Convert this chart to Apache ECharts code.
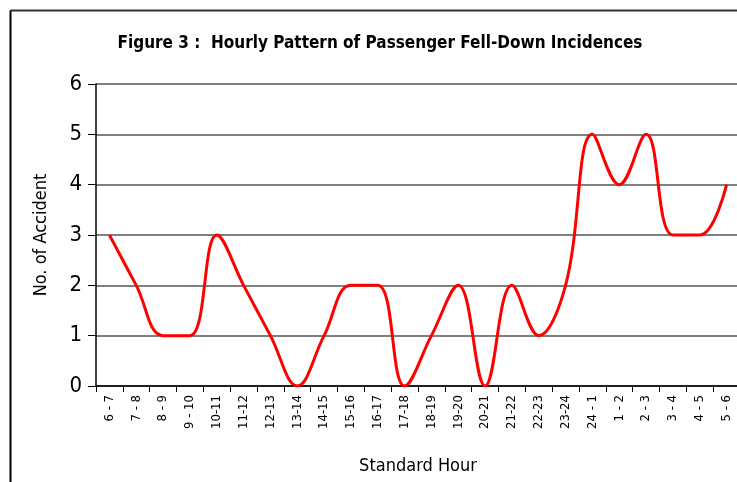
<!DOCTYPE html>
<html>
<head>
<meta charset="utf-8">
<script src="https://cdn.jsdelivr.net/npm/echarts@6/dist/echarts.min.js"></script>
<style>
html,body{margin:0;padding:0;background:#fff;}
#chart{width:737px;height:482px;}
</style>
</head>
<body>
<div id="chart"></div>
<script>
var hours = ['6 - 7','7 - 8','8 - 9','9 - 10','10-11','11-12','12-13','13-14','14-15','15-16','16-17','17-18',
	'18-19','19-20','20-21','21-22','22-23','23-24','24 - 1','1 - 2','2 - 3','3 - 4','4 - 5','5 - 6'];
var accidents = [3,2,1,1,3,2,1,0,1,2,2,0,1,2,0,2,1,2,5,4,5,3,3,4];
var yTicks = [0,1,2,3,4,5,6];

var font = '"DejaVu Sans Condensed", "Liberation Sans Narrow", "Arial Narrow", sans-serif';
var myChart = echarts.init(document.getElementById('chart'));
var option = {
	backgroundColor: '#fff',
	animation: false,
	title: {
		text: 'Figure 3 :  Hourly Pattern of Passenger Fell-Down Incidences',
		left: 375,
		top: 30,
		textAlign: 'center',
		textStyle: {fontFamily: font, fontSize: 17, fontWeight: 'bold', color: '#000'}
	},
	graphic: [
		{type: 'line', shape: {x1: 10.5, y1: 10.5, x2: 737, y2: 10.5}, style: {stroke: '#333', lineWidth: 2}},
		{type: 'line', shape: {x1: 10.5, y1: 10.5, x2: 10.5, y2: 482}, style: {stroke: '#000', lineWidth: 2}}
	],
	grid: {left: 96, right: -3, top: 84, bottom: 96, outerBoundsMode: 'none', containLabel: false},
	xAxis: {
		type: 'category',
		data: hours,
		boundaryGap: true,
		name: 'Standard Hour',
		nameLocation: 'middle',
		nameGap: 71,
		nameTextStyle: {fontFamily: font, fontSize: 18, color: '#000'},
		axisLine: {lineStyle: {color: '#000', width: 1.5}},
		axisTick: {show: true, alignWithLabel: false, length: 6, lineStyle: {color: '#000'}},
		axisLabel: {rotate: 90, fontFamily: font, fontSize: 13, color: '#000', interval: 0, margin: 9}
	},
	yAxis: {
		type: 'value',
		min: 0,
		max: 6,
		interval: 1,
		name: 'No. of Accident',
		nameLocation: 'middle',
		nameGap: 46,
		nameTextStyle: {fontFamily: font, fontSize: 18, color: '#000'},
		axisLine: {show: true, lineStyle: {color: '#000', width: 1.5}},
		axisTick: {show: true, length: 8, lineStyle: {color: '#000'}},
		axisLabel: {
			fontFamily: font, fontSize: 22, color: '#000', margin: 14,
			formatter: function(v){ return yTicks.indexOf(v) >= 0 ? String(v) : ''; }
		},
		splitLine: {show: true, lineStyle: {color: '#555', width: 1.5}}
	},
	series: [{
		name: 'No. of Accident',
		type: 'line',
		data: accidents,
		smooth: 0.4,
		symbol: 'none',
		lineStyle: {color: '#ff0000', width: 3}
	}]
};
myChart.setOption(option);
</script>
</body>
</html>
